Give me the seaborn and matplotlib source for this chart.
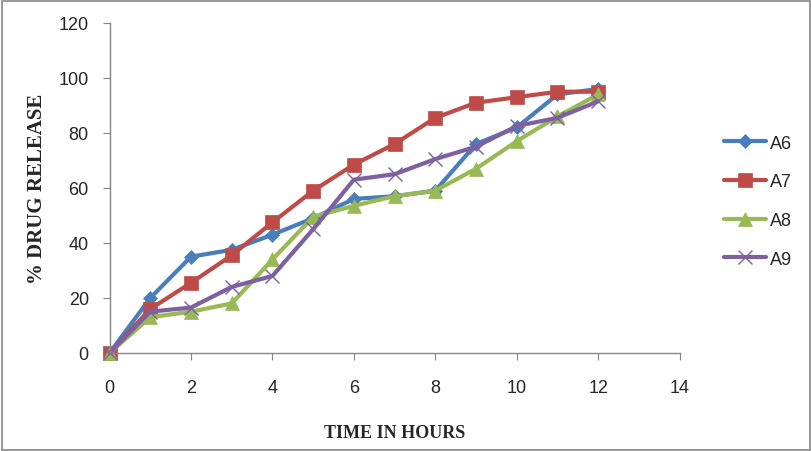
import numpy as np
import pandas as pd
import seaborn as sns
import matplotlib.pyplot as plt
from matplotlib.patches import Rectangle

hours = [0, 1, 2, 3, 4, 5, 6, 7, 8, 9, 10, 11, 12]
a6 = [0, 20, 35, 37.5, 43, 49, 56, 57, 59, 76, 82, 94, 96]
a7 = [0, 16, 25.5, 35.5, 47.5, 59, 68.5, 76, 85.5, 91, 93, 95, 95]
a8 = [0, 13, 15, 18, 34, 49.5, 53.5, 57, 59, 67, 77, 86, 94]
a9 = [0, 15, 16.5, 24, 28, 45, 63, 65, 70.5, 75, 82.5, 85.5, 91.5]
names = ['A6', 'A7', 'A8', 'A9']
colors = ['#4a7ebb', '#be4b48', '#98b954', '#7d60a0']
markers = ['D', 's', '^', 'x']
msizes = [7, 10, 10, 10]

df = pd.DataFrame({'hours': hours * 4,
                   'release': a6 + a7 + a8 + a9,
                   'batch': sum([[n] * len(hours) for n in names], [])})

sns.set_style('white')
plt.rcParams['font.family'] = ['Liberation Sans', 'DejaVu Sans']

fig = plt.figure(figsize=(8.12, 4.52), dpi=100)
ax = fig.add_axes([0.135, 0.217, 0.702, 0.73])

for n, c, m, s in zip(names, colors, markers, msizes):
    sub = df[df['batch'] == n]
    sns.lineplot(data=sub, x='hours', y='release', ax=ax, color=c, lw=3,
                 marker=m, markersize=s, markeredgecolor=c,
                 markeredgewidth=1 if m == 'x' else 0.5, label=n)

ax.set_xlim(0, 14)
ax.set_ylim(0, 120)
ax.set_xticks(range(0, 15, 2))
ax.set_yticks(range(0, 121, 20))
ax.tick_params(axis='both', labelsize=13, length=5, color='#868686', direction='out',
               left=True, bottom=True)
ax.tick_params(axis='x', pad=14)
ax.tick_params(axis='y', pad=10)
for side in ['top', 'right']:
    ax.spines[side].set_visible(False)
for side in ['left', 'bottom']:
    ax.spines[side].set_color('#868686')
    ax.spines[side].set_linewidth(1)
for line in ax.lines:
    line.set_clip_on(False)

ax.set_xlabel('TIME IN HOURS', fontsize=13, fontweight='bold',
              family='Liberation Serif', labelpad=20)
ax.set_ylabel('% DRUG RELEASE', fontsize=15, fontweight='bold',
              family='Liberation Serif', labelpad=8)

leg = ax.legend(loc='center left', bbox_to_anchor=(1.05, 0.46), frameon=False,
                fontsize=13, handlelength=2.3, labelspacing=1.2, handletextpad=0.2)

fig.patches.append(Rectangle((0.002, 0.003), 0.995, 0.993, transform=fig.transFigure,
                             fill=False, edgecolor='#868686', lw=1.2))

fig.savefig('out.png', dpi=100)
